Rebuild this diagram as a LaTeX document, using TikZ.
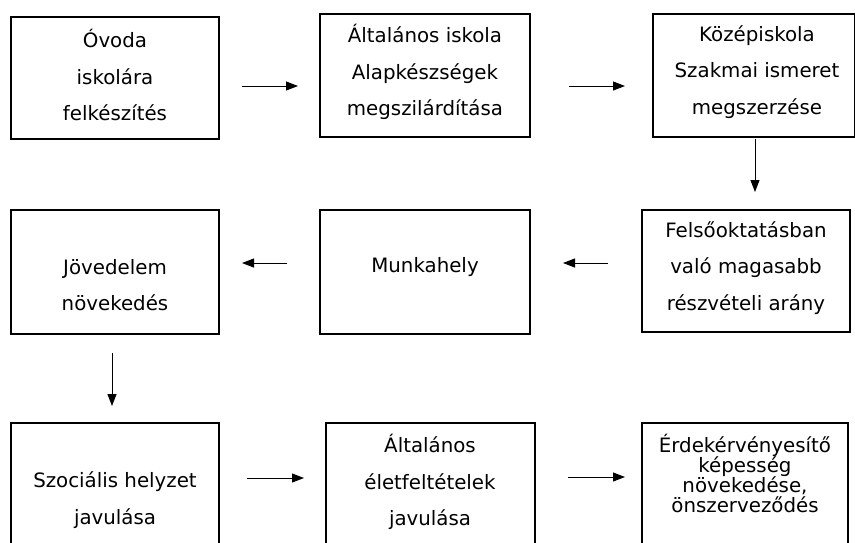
\documentclass[tikz,border=0pt]{standalone}
\usepackage{fontspec}
\setmainfont{DejaVu Sans}
\usetikzlibrary{arrows.meta}
\begin{document}
\begin{tikzpicture}[x=1pt,y=-1pt,
  boxshape/.style={draw=black, line width=1.3pt, rectangle, inner sep=0pt},
  txt/.style={align=center, font=\fontsize{19.8}{36.5}\selectfont, inner sep=0pt},
  tighttxt/.style={align=center, font=\fontsize{19.8}{20}\selectfont, inner sep=0pt},
  arr/.style={line width=1pt, -{Triangle[length=12pt,width=9pt]}}]
\useasboundingbox (0,0) rectangle (855,542);
\clip (0,0) rectangle (855,542);
% boxes
\node[boxshape, minimum width=208pt, minimum height=122pt] (b1) at (115,78) {};
\node[boxshape, minimum width=210pt, minimum height=123pt] (b2) at (425,75.5) {};
\node[boxshape, minimum width=202pt, minimum height=123pt] (b3) at (754,75.5) {};
\node[boxshape, minimum width=208pt, minimum height=124pt] (b4) at (115,272) {};
\node[boxshape, minimum width=210pt, minimum height=124pt] (b5) at (425,272) {};
\node[boxshape, minimum width=208pt, minimum height=122pt] (b6) at (746,271) {};
\node[boxshape, minimum width=208pt, minimum height=160pt] (b7) at (115,503) {};
\node[boxshape, minimum width=209pt, minimum height=160pt] (b8) at (430.5,503) {};
\node[boxshape, minimum width=206pt, minimum height=160pt] (b9) at (745,503) {};
% texts
\node[txt] (t1) at (115,75) {Óvoda\\iskolára\\felkészítés};
\node[txt] (t2) at (425,72) {Általános iskola\\Alapkészségek\\megszilárdítása};
\node[txt] (t3) at (757,72) {Középiskola\\Szakmai ismeret\\megszerzése};
\node[txt] (t4) at (115,285) {Jövedelem\\növekedés};
\node[txt] (t5) at (425,267) {Munkahely};
\node[txt] (t6) at (746,268) {Felsőoktatásban\\való magasabb\\részvételi arány};
\node[txt] (t7) at (115,500) {Szociális helyzet\\javulása};
\node[txt] (t8) at (430,482) {Általános\\életfeltételek\\javulása};
\node[tighttxt] (t9) at (745,473) {Érdekérvényesítő\\képesség\\növekedése,\\önszerveződés};
% arrow end points
\coordinate (a12s) at (242,86);  \coordinate (a12e) at (298,86);
\coordinate (a23s) at (569,86);  \coordinate (a23e) at (625,86);
\coordinate (a36s) at (755,139); \coordinate (a36e) at (755,192);
\coordinate (a65s) at (608,263); \coordinate (a65e) at (563,263);
\coordinate (a54s) at (287,263); \coordinate (a54e) at (242,263);
\coordinate (a47s) at (112,353); \coordinate (a47e) at (112,406);
\coordinate (a78s) at (247,478); \coordinate (a78e) at (304,478);
\coordinate (a89s) at (568,477); \coordinate (a89e) at (625,477);
\draw[arr] (a12s) -- (a12e);
\draw[arr] (a23s) -- (a23e);
\draw[arr] (a36s) -- (a36e);
\draw[arr] (a65s) -- (a65e);
\draw[arr] (a54s) -- (a54e);
\draw[arr] (a47s) -- (a47e);
\draw[arr] (a78s) -- (a78e);
\draw[arr] (a89s) -- (a89e);
\end{tikzpicture}
\end{document}
